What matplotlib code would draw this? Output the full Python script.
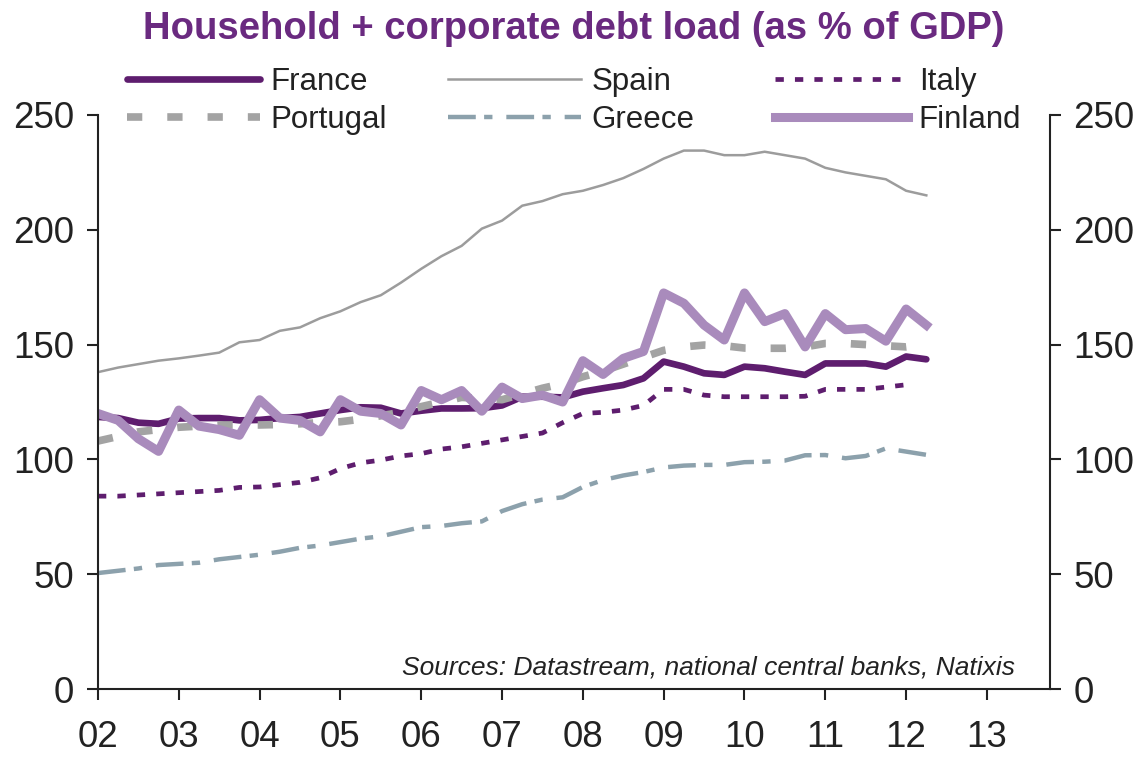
import numpy as np
import matplotlib
matplotlib.use("Agg")
import matplotlib.pyplot as plt

plt.rcParams['font.family'] = ['Liberation Sans', 'DejaVu Sans']
plt.rcParams['lines.scale_dashes'] = False

# quarterly observations, 2002Q1 .. 2012Q2
quarters = np.arange(2002, 2012.26, 0.25)

france = [118.5, 118, 116, 115.5, 117.8, 118, 118, 117, 117.2, 118, 118.5, 120,
          121.5, 122.7, 122.5, 120, 121.2, 122.2, 122.2, 122.3, 123.5, 127.3, 127.3, 127,
          129.5, 131, 132.4, 135.3, 142.6, 140.4, 137.5, 136.8, 140.4, 139.7, 138.2, 136.8,
          141.8, 141.8, 141.8, 140.4, 144.8, 143.6]
spain = [138, 140, 141.5, 143, 144, 145.2, 146.5, 151, 152, 156, 157.5, 161.5,
         164.5, 168.5, 171.5, 177, 183, 188.5, 193, 200.5, 204, 210.5, 212.5, 215.5,
         217, 219.5, 222.5, 226.5, 231, 234.5, 234.5, 232.5, 232.5, 234, 232.5, 231,
         227, 225, 223.5, 222, 217, 215]
italy = [84, 84, 84.5, 85, 85.5, 86, 86.5, 87.8, 88, 89, 90, 92,
         96, 98.5, 99.7, 101.5, 102.5, 104.5, 105.5, 107, 108.5, 110, 111.5, 116,
         120, 120.5, 121.5, 123.5, 130.5, 130.5, 128, 127.3, 127.3, 127.3, 127.3, 127.5,
         130.5, 130.5, 130.5, 131.5, 132.5, np.nan]
portugal = [108, 110, 112, 113, 114, 114.5, 115, 115, 115, 115.2, 115.5, 116,
            116.4, 117.5, 119, 120.5, 123, 125, 127, 126.5, 126, 128.5, 131, 133,
            136, 138.5, 141.5, 144.5, 147.5, 149, 149.8, 149.5, 148.5, 148.4, 148.4, 149,
            150.5, 150.5, 150, 149.5, 149, 150]
greece = [50.5, 51.5, 52.5, 54, 54.5, 55, 56.5, 57.5, 58.5, 59.8, 61.5, 62.5,
          64, 65.5, 66.5, 68.5, 70.5, 71, 72.2, 73, 77.5, 80.5, 82.5, 83.5,
          88, 91, 93, 94.5, 96.5, 97.3, 97.6, 97.6, 98.8, 99, 99.5, 101.8,
          101.9, 100.5, 101.5, 104.8, 103.4, 102]
finland = [120, 117, 109, 103.5, 121.5, 114.5, 113, 110.5, 126, 118, 117, 112,
           126, 121, 120, 115, 130, 126, 130, 121, 131.5, 126.5, 128, 125,
           143, 137, 144, 147, 172.5, 168, 158.5, 152, 172.5, 160, 163.5, 149,
           163.5, 156.5, 157, 151.5, 165.5, 158.5]

year_ticks = list(range(2002, 2014))
year_labels = ['02', '03', '04', '05', '06', '07', '08', '09', '10', '11', '12', '13']

dark_purple = '#5E1D6E'
light_purple = '#A98BBC'

fig = plt.figure(figsize=(11.47, 7.58), dpi=100)
ax = fig.add_axes([0.0854, 0.091, 0.830, 0.7573])

l_fr, = ax.plot(quarters, france, color=dark_purple, lw=4.8, solid_capstyle='round')
l_es, = ax.plot(quarters, spain, color='#9C9C9C', lw=1.8)
l_it, = ax.plot(quarters, italy, color=dark_purple, lw=3.4, dashes=(6, 8))
l_pt, = ax.plot(quarters, portugal, color='#A3A3A3', lw=5.5, dashes=(11, 18))
l_gr, = ax.plot(quarters, greece, color='#8CA1AC', lw=3.2, dashes=(20, 6, 6, 10))
l_fi, = ax.plot(quarters, finland, color=light_purple, lw=6.5)

ax.set_xlim(2002, 2013.78)
ax.set_ylim(0, 250)
ax.set_xticks(year_ticks)
ax.set_xticklabels(year_labels)
ax.set_yticks([0, 50, 100, 150, 200, 250])

for side in ['left', 'right', 'bottom']:
    ax.spines[side].set_linewidth(1.5)
    ax.spines[side].set_color('#222222')
ax.spines['top'].set_visible(False)

ax.tick_params(axis='y', which='both', left=True, right=True, labelleft=True, labelright=True,
               direction='out', length=8, width=1.5, labelsize=26.5, pad=9, colors='#222222')
ax.tick_params(axis='x', direction='out', length=8, width=1.5, labelsize=26.5, pad=14,
               colors='#222222')

ax.text(0.963, 0.037, 'Sources: Datastream, national central banks, Natixis',
        transform=ax.transAxes, ha='right', va='center', fontsize=19, style='italic',
        color='#222222')

fig.text(0.5, 0.962, 'Household + corporate debt load (as % of GDP)', ha='center', va='center',
         fontsize=27.5, fontweight='bold', color='#6A2A80')

# legend: three columns of two rows
cols = [([l_fr, l_pt], ['France', 'Portugal'], 127),
        ([l_es, l_gr], ['Spain', 'Greece'], 448),
        ([l_it, l_fi], ['Italy', 'Finland'], 775)]
for handles, labels, xpx in cols:
    leg = fig.legend(handles, labels, loc='upper left', bbox_to_anchor=(xpx / 1147, 1 - 67 / 758),
                     frameon=False, fontsize=22.5, handlelength=4.25, handletextpad=0.35,
                     labelspacing=0.25, borderpad=0, borderaxespad=0)
    for t in leg.get_texts():
        t.set_color('#222222')

fig.savefig('out.png', dpi=100)
